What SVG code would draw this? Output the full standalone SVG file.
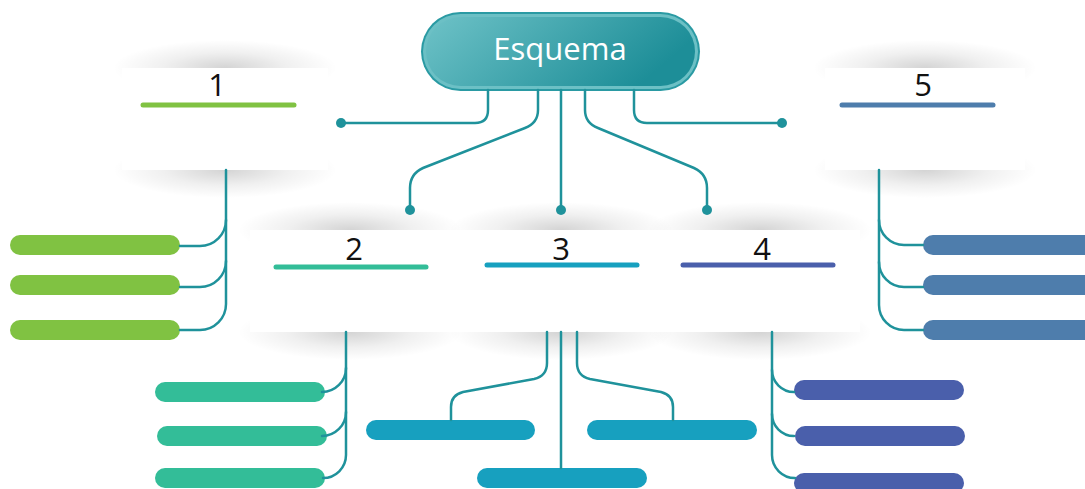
<svg xmlns="http://www.w3.org/2000/svg" width="1085" height="489" viewBox="0 0 1085 489">
<defs>
<radialGradient id="sh" cx="0.5" cy="0.5" r="0.5">
<stop offset="0" stop-color="#000" stop-opacity="0.17"/>
<stop offset="0.55" stop-color="#000" stop-opacity="0.06"/>
<stop offset="1" stop-color="#000" stop-opacity="0"/>
</radialGradient>
<linearGradient id="pill" x1="0" y1="0" x2="1" y2="0.3">
<stop offset="0" stop-color="#6ec2c7"/>
<stop offset="1" stop-color="#1d8e98"/>
</linearGradient>
<style>
.con{fill:none;stroke:#1f929b;stroke-width:2.5;stroke-linecap:round}
.dot{fill:#1f929b}
.card{fill:#fff}
.shadow{fill:url(#sh)}
.num{font-family:"Open Sans","Liberation Sans",sans-serif;font-size:31px;fill:#111;text-anchor:middle}
.ul{stroke-width:5;stroke-linecap:round}
.g{fill:#80c242}.gs{stroke:#80c242}
.t{fill:#33bd98}.ts{stroke:#33bd98}
.c{fill:#17a0bf}.cs{stroke:#17a0bf}
.i{fill:#4a5fab}.is{stroke:#4a5fab}
.b{fill:#4e7dac}.bs{stroke:#4e7dac}
</style>
</defs>
<rect width="1085" height="489" fill="#fff"/>
<g id="shadows">
<ellipse class="shadow" cx="225" cy="68" rx="112" ry="28"/>
<ellipse class="shadow" cx="225" cy="170" rx="112" ry="28"/>
<ellipse class="shadow" cx="925" cy="68" rx="112" ry="28"/>
<ellipse class="shadow" cx="925" cy="170" rx="112" ry="28"/>
<ellipse class="shadow" cx="350" cy="230" rx="112" ry="28"/>
<ellipse class="shadow" cx="350" cy="332" rx="112" ry="28"/>
<ellipse class="shadow" cx="561" cy="230" rx="112" ry="28"/>
<ellipse class="shadow" cx="561" cy="332" rx="112" ry="28"/>
<ellipse class="shadow" cx="760" cy="230" rx="112" ry="28"/>
<ellipse class="shadow" cx="760" cy="332" rx="112" ry="28"/>
</g>
<g id="node-root">
<rect x="421" y="12" width="279" height="79" rx="39.5" fill="#2a9aa3"/>
<rect x="423" y="14" width="275" height="75" rx="37.5" fill="#6cc0c5"/>
<rect x="426" y="17" width="269" height="69" rx="34.5" fill="url(#pill)"/>
<text x="560" y="60" font-family="'Open Sans','Liberation Sans',sans-serif" font-size="31" fill="#fff" text-anchor="middle">Esquema</text>
</g>
<g id="node-1">
<rect class="card" x="122" y="68" width="206" height="102"/>
<text class="num" x="217" y="96">1</text>
<line class="ul gs" x1="143" y1="105" x2="294" y2="105"/>
<rect class="g" x="10" y="235" width="170" height="20" rx="10"/>
<rect class="g" x="10" y="275" width="170" height="20" rx="10"/>
<rect class="g" x="10" y="320" width="170" height="20" rx="10"/>
</g>
<g id="node-5">
<rect class="card" x="825" y="68" width="200" height="102"/>
<text class="num" x="923" y="96">5</text>
<line class="ul bs" x1="842" y1="105" x2="993" y2="105"/>
<rect class="b" x="923" y="235" width="180" height="20" rx="10"/>
<rect class="b" x="923" y="275" width="180" height="20" rx="10"/>
<rect class="b" x="923" y="320" width="180" height="20" rx="10"/>
</g>
<g id="node-2">
<rect class="card" x="250" y="230" width="206" height="102"/>
<text class="num" x="354" y="260">2</text>
<line class="ul ts" x1="276" y1="267" x2="426" y2="267"/>
<rect class="t" x="155" y="382" width="170" height="20" rx="10"/>
<rect class="t" x="157" y="426" width="170" height="20" rx="10"/>
<rect class="t" x="155" y="468" width="170" height="20" rx="10"/>
</g>
<g id="node-3">
<rect class="card" x="456" y="230" width="206" height="102"/>
<text class="num" x="561" y="260">3</text>
<line class="ul cs" x1="487" y1="265" x2="637" y2="265"/>
<rect class="c" x="366" y="420" width="169" height="20" rx="10"/>
<rect class="c" x="587" y="420" width="170" height="20" rx="10"/>
<rect class="c" x="477" y="468" width="170" height="20" rx="10"/>
</g>
<g id="node-4">
<rect class="card" x="660" y="230" width="200" height="102"/>
<text class="num" x="762" y="260">4</text>
<line class="ul is" x1="683" y1="265" x2="833" y2="265"/>
<rect class="i" x="794" y="380" width="170" height="20" rx="10"/>
<rect class="i" x="795" y="426" width="170" height="20" rx="10"/>
<rect class="i" x="794" y="473" width="170" height="20" rx="10"/>
</g>
<g id="connectors">
<path class="con" d="M488,90 V110 Q488,123 475,123 H341"/>
<path class="con" d="M634,90 V110 Q634,123 647,123 H782"/>
<path class="con" d="M538,90 V110 Q538,123 525,128 L423,168 Q410,174 410,188 V210"/>
<path class="con" d="M561,90 V210"/>
<path class="con" d="M585,90 V110 Q585,123 598,128 L694,168 Q707,174 707,188 V210"/>
<circle class="dot" cx="341" cy="123" r="5"/>
<circle class="dot" cx="782" cy="123" r="5"/>
<circle class="dot" cx="410" cy="210" r="5"/>
<circle class="dot" cx="561" cy="210" r="5"/>
<circle class="dot" cx="707" cy="210" r="5"/>
<path class="con" d="M226,170 V304 A26,26 0 0 1 200,330 H180"/>
<path class="con" d="M226,220 A26,26 0 0 1 200,246 H180"/>
<path class="con" d="M226,261 A26,26 0 0 1 200,287 H180"/>
<path class="con" d="M879,170 V305 A25,25 0 0 0 904,330 H923"/>
<path class="con" d="M879,220 A25,25 0 0 0 904,245 H923"/>
<path class="con" d="M879,262 A25,25 0 0 0 904,287 H923"/>
<path class="con" d="M346,332 V455 A23,23 0 0 1 323,478"/>
<path class="con" d="M346,368 A24,24 0 0 1 322,392"/>
<path class="con" d="M346,412 A24,24 0 0 1 322,436"/>
<path class="con" d="M561,332 V468"/>
<path class="con" d="M547,332 V363 Q547,376 534,379 L463,392 Q451,395 451,407 V420"/>
<path class="con" d="M577,332 V363 Q577,376 590,379 L661,392 Q673,395 673,407 V420"/>
<path class="con" d="M772,332 V455 A23,23 0 0 0 795,478"/>
<path class="con" d="M772,370 A22,22 0 0 0 794,392"/>
<path class="con" d="M772,414 A22,22 0 0 0 794,436"/>
</g>
</svg>
